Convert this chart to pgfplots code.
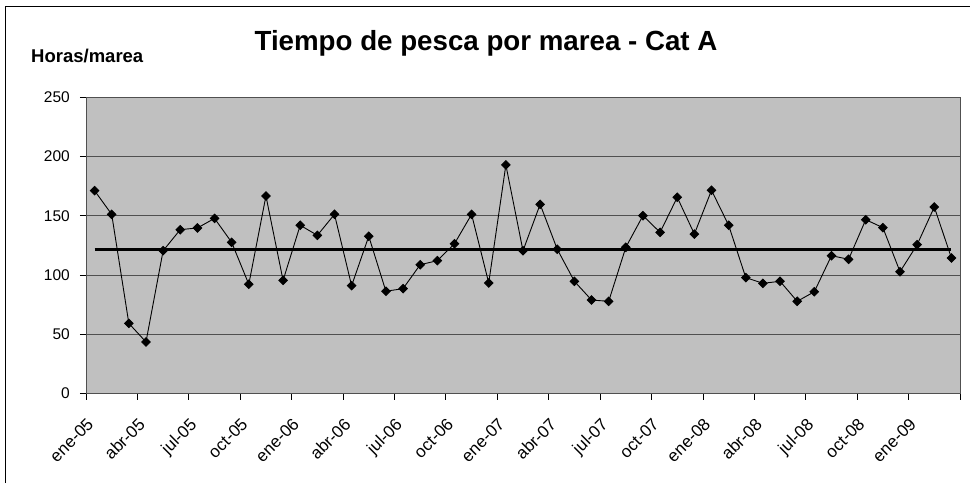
\documentclass[border=0pt]{standalone}
\usepackage{pgfplots}
\pgfplotsset{compat=1.18}
\usepackage{fontspec}
\setmainfont{Liberation Sans}
\definecolor{plotbg}{HTML}{C0C0C0}
\definecolor{gridc}{HTML}{505050}
\begin{document}
\begin{tikzpicture}[x=1pt,y=1pt]
\begin{axis}[
  at={(86pt,89.5pt)}, anchor=south west,
  scale only axis, width=874pt, height=296.2pt,
  xmin=0, xmax=51, ymin=0, ymax=250,
  axis background/.style={fill=plotbg},
  axis line style={draw=gridc, line width=0.9pt},
  xtick={0,3,...,51},
  xticklabels={ene-05,abr-05,jul-05,oct-05,ene-06,abr-06,jul-06,oct-06,ene-07,abr-07,jul-07,oct-07,ene-08,abr-08,jul-08,oct-08,ene-09,},
  ytick={0,50,...,250},
  tick pos=left, tick align=outside,
  major tick length=6pt,
  tick style={draw=black, line width=0.8pt},
  ymajorgrids, grid style={draw=gridc, line width=0.8pt},
  /pgf/number format/assume math mode=true,
  yticklabel style={font=\fontsize{15.5}{18}\selectfont, text=black, inner sep=2pt, xshift=-8pt},
  xticklabel style={font=\fontsize{17}{20}\selectfont, text=black, rotate=45, anchor=north east, inner sep=1pt},
  xticklabel shift=16pt,
  clip=false,
]
\addplot[black, line width=0.9pt, mark=square*, mark size=3pt, mark options={fill=black, solid, rotate=45}] coordinates {
(0.5,171.2) (1.5,151.2) (2.5,59.2) (3.5,43.5) (4.5,120.5) (5.5,138.3) (6.5,139.7) (7.5,147.8) (8.5,127.6) (9.5,92.2)
(10.5,166.7) (11.5,95.5) (12.5,142) (13.5,133.5) (14.5,151.2) (15.5,91) (16.5,132.7) (17.5,86.3) (18.5,88.5) (19.5,108.7)
(20.5,112.1) (21.5,126.4) (22.5,151.2) (23.5,93.3) (24.5,192.9) (25.5,120.5) (26.5,159.7) (27.5,121.7) (28.5,94.7) (29.5,78.9)
(30.5,77.8) (31.5,123.4) (32.5,150.1) (33.5,136) (34.5,165.6) (35.5,134.6) (36.5,171.5) (37.5,142) (38.5,97.8) (39.5,93)
(40.5,94.7) (41.5,77.8) (42.5,85.9) (43.5,116.3) (44.5,113.3) (45.5,146.7) (46.5,140) (47.5,102.8) (48.5,125.6) (49.5,157.4)
(50.5,114.4)
};
\addplot[black, line width=3pt, mark=none] coordinates {(0.5,121.5) (50.5,121.5)};
\end{axis}
\node[anchor=base, font=\fontsize{27.7}{32}\selectfont\bfseries] at (486pt,432pt) {Tiempo de pesca por marea - Cat A};
\node[anchor=base west, inner sep=0pt, font=\fontsize{18.5}{22}\selectfont\bfseries] at (31pt,420.3pt) {Horas/marea};
\draw[black, line width=1pt] (5pt,0pt) -- (5pt,476pt) -- (970pt,476pt);
\pgfresetboundingbox
\useasboundingbox (0,0) rectangle (970pt,483pt);
\end{tikzpicture}
\end{document}
